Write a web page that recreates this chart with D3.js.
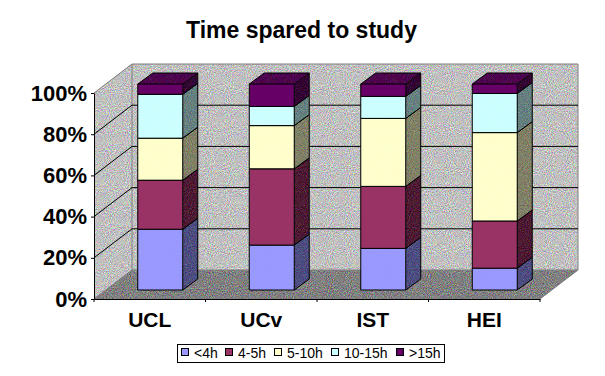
<!DOCTYPE html>
<html>
<head>
<meta charset="utf-8">
<script src="https://cdn.jsdelivr.net/npm/d3@7"></script>
<style>
  html, body { margin: 0; background: #fff; }
  svg { display: block; }
  text { font-family: "Liberation Sans", Arial, sans-serif; fill: #000; }
</style>
</head>
<body>
<div id="chart"></div>
<script>
// Values
const categories = ["UCL", "UCv", "IST", "HEI"];
const legendLabels = ["<4h", "4-5h", "5-10h", "10-15h", ">15h"];
const under4h = [29.5, 21.8, 20.2, 10.6];
const h4to5 = [23.8, 37.0, 30.1, 22.9];
const h5to10 = [20.4, 21.0, 33.0, 42.9];
const h10to15 = [21.3, 9.3, 10.7, 19.0];
const over15h = [5.0, 10.9, 6.0, 4.6];
const yTicks = [0, 20, 40, 60, 80, 100];
const colors = ["#9999ff", "#993366", "#ffffcc", "#ccffff", "#660066"];

const seriesValues = [under4h, h4to5, h5to10, h10to15, over15h];

const svgWidth = 605, svgHeight = 376;

// Front plane of the box and its depth offset
const plot = { left: 94, right: 540, top: 93, bottom: 299 };
const depth = { x: 38, y: -29 };
const barDepth = { x: 15, y: -11 };
const barInset = { x: 10.5, y: -9 };

const x = d3.scaleBand().domain(categories).range([plot.left, plot.right]).paddingInner(0).paddingOuter(0);
const y = d3.scaleLinear().domain([0, 100]).range([plot.bottom, plot.top]);
const barWidth = 45;

const svg = d3.select("#chart").append("svg")
    .attr("width", svgWidth)
    .attr("height", svgHeight);

// Dithered look of the old 256-colour screenshot
const defs = svg.append("defs");
function addDither(id, amount) {
  const f = defs.append("filter").attr("id", id)
      .attr("x", 0).attr("y", 0).attr("width", 1).attr("height", 1)
      .attr("color-interpolation-filters", "sRGB");
  f.append("feTurbulence")
      .attr("type", "fractalNoise")
      .attr("baseFrequency", 0.95)
      .attr("numOctaves", 2)
      .attr("seed", 4)
      .attr("result", "noise");
  f.append("feColorMatrix")
      .attr("in", "noise")
      .attr("type", "matrix")
      .attr("values", "1 0 0 0 0  0 1 0 0 0  0 0 1 0 0  0 0 0 0 1")
      .attr("result", "opaque");
  f.append("feComposite")
      .attr("in", "SourceGraphic")
      .attr("in2", "opaque")
      .attr("operator", "arithmetic")
      .attr("k1", 0).attr("k2", 1).attr("k3", amount).attr("k4", -amount / 2)
      .attr("result", "mixed");
  f.append("feComposite")
      .attr("in", "mixed")
      .attr("in2", "SourceAlpha")
      .attr("operator", "in");
}
addDither("ditherWall", 0.75);
addDither("ditherSide", 0.5);
addDither("ditherFace", 0.05);

const pts = a => a.map(p => p.join(",")).join(" ");

// Title
svg.append("text")
    .attr("x", 301.5)
    .attr("y", 38)
    .attr("text-anchor", "middle")
    .style("font-size", "23px")
    .style("font-weight", "bold")
    .text("Time spared to study");

// Walls and floor
const backTop = y(100) + depth.y, backBottom = y(0) + depth.y;
const backLeft = plot.left + depth.x, backRight = plot.right + depth.x;
const box = svg.append("g").attr("class", "box");

box.append("polygon")
    .attr("points", pts([[plot.left, y(100)], [backLeft, backTop], [backLeft, backBottom], [plot.left, y(0)]]))
    .attr("fill", "#c0c0c0")
    .attr("filter", "url(#ditherWall)");
box.append("polygon")
    .attr("points", pts([[backLeft, backTop], [backRight, backTop], [backRight, backBottom], [backLeft, backBottom]]))
    .attr("fill", "#c0c0c0")
    .attr("filter", "url(#ditherWall)");
box.append("polygon")
    .attr("points", pts([[plot.left, y(0)], [plot.right, y(0)], [backRight, backBottom], [backLeft, backBottom]]))
    .attr("fill", "#808080")
    .attr("filter", "url(#ditherWall)");

// Edges of the box
box.append("path")
    .attr("fill", "none")
    .attr("stroke", "#808080")
    .attr("d", `M${plot.left},${y(100)}L${backLeft},${backTop}H${backRight}V${backBottom}L${plot.right},${y(0)}M${backLeft},${backTop}V${backBottom}L${plot.left},${y(0)}M${backLeft},${backBottom}H${backRight}`);

// Gridlines, along the left wall and the back wall
const grid = svg.append("g").attr("class", "grid");
grid.selectAll("path")
  .data(yTicks.filter(d => d > 0 && d < 100))
  .join("path")
    .attr("fill", "none")
    .attr("stroke", "#000")
    .attr("d", d => `M${plot.left},${y(d)}L${backLeft},${y(d) + depth.y}H${backRight}`);

// Stacked columns
const table = categories.map((c, i) => {
  const row = { category: c };
  legendLabels.forEach((k, j) => { row[k] = seriesValues[j][i]; });
  return row;
});
const stacked = d3.stack().keys(legendLabels)(table);

const shade = (c, k) => {
  const r = d3.rgb(c);
  return d3.rgb(r.r * k, r.g * k, r.b * k).formatHex();
};

const layers = svg.append("g").attr("class", "bars")
  .selectAll("g")
  .data(stacked)
  .join("g");

layers.each(function(layer, j) {
  const g = d3.select(this);
  const isTop = j === stacked.length - 1;
  layer.forEach(d => {
    const x0 = x(d.data.category) + barInset.x + (x.bandwidth() - barWidth) / 2;
    const x1 = x0 + barWidth;
    const y0 = y(d[0]) + barInset.y;
    const y1 = y(d[1]) + barInset.y;

    g.append("polygon")
        .attr("points", pts([[x0, y0], [x1, y0], [x1, y1], [x0, y1]]))
        .attr("fill", colors[j])
        .attr("filter", colors[j] === "#660066" || colors[j] === "#993366" ? null : "url(#ditherFace)");
    g.append("polygon")
        .attr("points", pts([[x1, y0], [x1 + barDepth.x, y0 + barDepth.y], [x1 + barDepth.x, y1 + barDepth.y], [x1, y1]]))
        .attr("fill", shade(colors[j], 0.5))
        .attr("filter", "url(#ditherSide)");
    if (isTop) {
      g.append("polygon")
          .attr("points", pts([[x0, y1], [x1, y1], [x1 + barDepth.x, y1 + barDepth.y], [x0 + barDepth.x, y1 + barDepth.y]]))
          .attr("fill", shade(colors[j], 0.75))
          .attr("filter", "url(#ditherSide)");
    }
    // outlines go on top of the filtered fills
    g.append("path")
        .attr("fill", "none")
        .attr("stroke", "#000")
        .attr("stroke-width", 1)
        .attr("d", `M${x0},${y0}H${x1}V${y1}H${x0}ZM${x1},${y0}l${barDepth.x},${barDepth.y}V${y1 + barDepth.y}L${x1},${y1}`
          + (isTop ? `M${x0},${y1}l${barDepth.x},${barDepth.y}H${x1 + barDepth.x}` : ""));
  });
});

// Axes
const yAxis = svg.append("g")
    .attr("transform", `translate(${plot.left},0)`)
    .call(d3.axisLeft(y).tickValues(yTicks).tickFormat(d => d + "%").tickSize(3).tickSizeOuter(0));
yAxis.select(".domain").attr("stroke", "#000");
yAxis.selectAll("text")
    .attr("dx", "-1px")
    .style("font-size", "22px")
    .style("font-weight", "bold");

const xAxis = svg.append("g")
    .attr("transform", `translate(0,${plot.bottom})`)
    .call(d3.axisBottom(x).tickSize(0).tickPadding(11));
xAxis.selectAll("text")
    .attr("dy", "0.8em")
    .style("font-size", "21px")
    .style("font-weight", "bold");
xAxis.selectAll(".boundary")
  .data(d3.range(categories.length + 1))
  .join("line")
    .attr("class", "boundary")
    .attr("stroke", "#000")
    .attr("x1", i => plot.left + i * x.step())
    .attr("x2", i => plot.left + i * x.step())
    .attr("y1", 0)
    .attr("y2", 3);

// Legend
const legend = svg.append("g").attr("class", "legend");
const legendSwatchX = [181, 225, 274, 331, 396];
legend.append("rect")
    .attr("x", 177.5).attr("y", 344.5)
    .attr("width", 267).attr("height", 18)
    .attr("fill", "#fff")
    .attr("stroke", "#000");
const item = legend.selectAll(".item")
  .data(legendLabels)
  .join("g")
    .attr("class", "item")
    .attr("transform", (d, i) => `translate(${legendSwatchX[i]},348)`);
item.append("rect")
    .attr("x", 0.5).attr("y", 0.5)
    .attr("width", 7).attr("height", 7)
    .attr("fill", (d, i) => colors[i])
    .attr("stroke", "#000");
item.append("text")
    .attr("x", 13)
    .attr("y", 10)
    .style("font-size", "14px")
    .text(d => d);
</script>
</body>
</html>
